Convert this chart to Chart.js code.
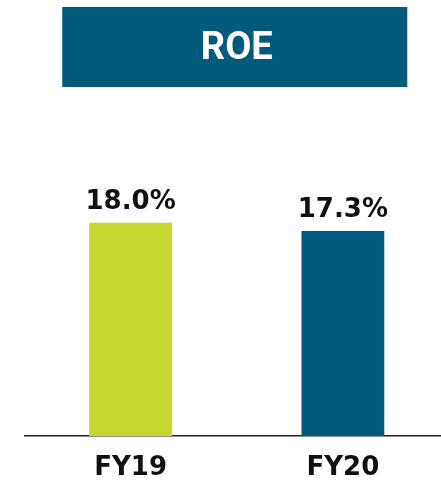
<!DOCTYPE html>
<html>
<head>
<meta charset="utf-8">
<script src="https://cdn.jsdelivr.net/npm/chart.js@4/dist/chart.umd.min.js"></script>
<style>
  html, body { margin: 0; padding: 0; background: #ffffff; overflow: hidden; }
  #wrap { width: 449px; height: 494px; position: relative; }
</style>
</head>
<body>
<div id="wrap"><canvas id="c"></canvas></div>
<script>
const categories = ['FY19', 'FY20'];
const roeValues = [18.0, 17.3];
const barColors = ['#c4d82f', '#005a7b'];
const titleText = 'ROE';
const yMin = 0;
const yMax = 20;

const bannerPlugin = {
  id: 'banner',
  beforeDraw(chart) {
    const tb = chart.titleBlock;
    if (!tb) return;
    const ctx = chart.ctx;
    const cx = (tb.left + tb.right) / 2 - 2;
    const w = 345, h = 80;
    ctx.save();
    ctx.fillStyle = '#015a7a';
    ctx.fillRect(cx - w / 2, tb.top, w, h);
    ctx.restore();
  }
};

const valueLabelPlugin = {
  id: 'valueLabels',
  afterDatasetsDraw(chart) {
    const ctx = chart.ctx;
    const meta = chart.getDatasetMeta(0);
    ctx.save();
    ctx.font = 'bold 26px "DejaVu Sans"';
    ctx.fillStyle = '#111111';
    ctx.textAlign = 'center';
    ctx.textBaseline = 'alphabetic';
    meta.data.forEach((bar, i) => {
      const v = chart.data.datasets[0].data[i];
      ctx.fillText(v.toFixed(1) + '%', bar.x, bar.y - 14);
    });
    ctx.restore();
  }
};

new Chart(document.getElementById('c'), {
  type: 'bar',
  data: {
    labels: categories,
    datasets: [{
      data: roeValues,
      backgroundColor: barColors,
      borderWidth: 0,
      categoryPercentage: 1.0,
      barPercentage: 0.39
    }]
  },
  options: {
    responsive: true,
    maintainAspectRatio: false,
    animation: false,
    layout: { padding: { top: 7, left: 24.5, right: 0, bottom: 2 } },
    plugins: {
      legend: { display: false },
      tooltip: { enabled: false },
      title: {
        display: true,
        text: titleText,
        color: '#ffffff',
        font: { family: 'Roboto', weight: 'bold', size: 38, lineHeight: 1 },
        padding: { top: 23, bottom: 131 }
      }
    },
    scales: {
      x: {
        grid: { display: false },
        border: { display: true, color: '#222222', width: 1.5 },
        ticks: {
          color: '#111111',
          font: { family: 'DejaVu Sans', weight: 'bold', size: 26, lineHeight: 1 },
          padding: 11
        }
      },
      y: {
        display: false,
        min: yMin,
        max: yMax
      }
    }
  },
  plugins: [bannerPlugin, valueLabelPlugin]
});
</script>
</body>
</html>
